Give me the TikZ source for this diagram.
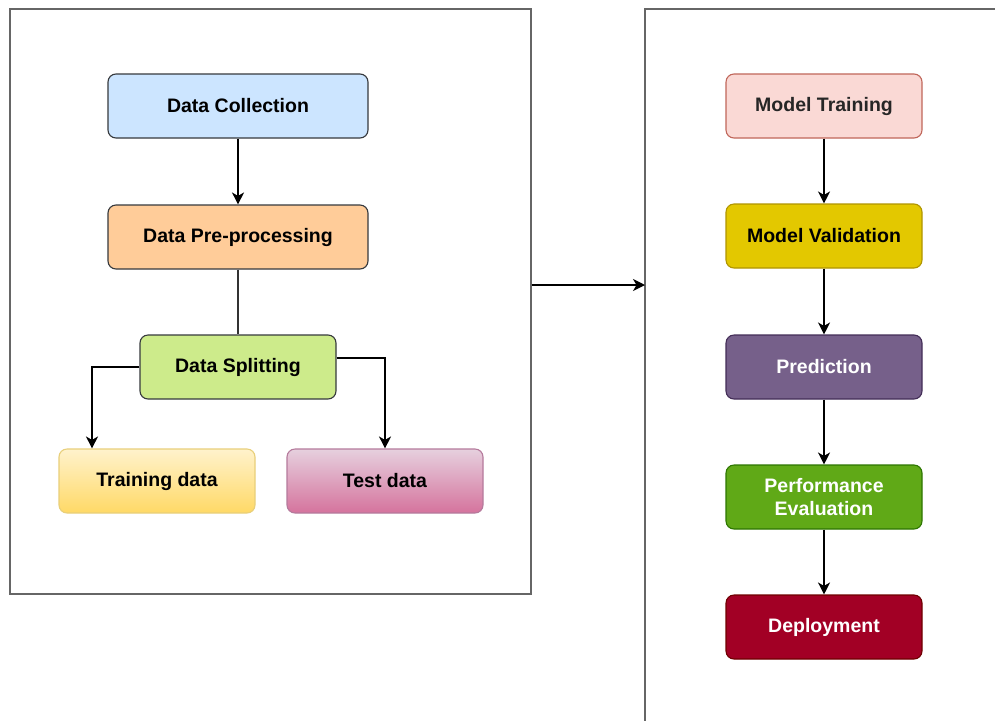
\documentclass[tikz,border=0pt]{standalone}
\usepackage{fontspec}
\setmainfont{Liberation Sans}
\usetikzlibrary{arrows.meta}
\definecolor{dcfill}{HTML}{CCE5FF}
\definecolor{dpfill}{HTML}{FFCC99}
\definecolor{dsfill}{HTML}{CDEB8B}
\definecolor{grayline}{HTML}{36393D}
\definecolor{trtop}{HTML}{FFF2CC}
\definecolor{trbot}{HTML}{FFD966}
\definecolor{trline}{HTML}{E8CF7A}
\definecolor{tetop}{HTML}{E6D0DE}
\definecolor{tebot}{HTML}{D5739D}
\definecolor{teline}{HTML}{B57A9C}
\definecolor{mtfill}{HTML}{FAD9D5}
\definecolor{mtline}{HTML}{C0665A}
\definecolor{mvfill}{HTML}{E3C800}
\definecolor{mvline}{HTML}{B09500}
\definecolor{prfill}{HTML}{76608A}
\definecolor{prline}{HTML}{432D57}
\definecolor{pefill}{HTML}{60A917}
\definecolor{peline}{HTML}{2D7600}
\definecolor{defill}{HTML}{A20025}
\definecolor{deline}{HTML}{6F0000}
\definecolor{panelline}{HTML}{666666}
\begin{document}
\begin{tikzpicture}[x=1pt,y=-1pt,
  box/.style={rounded corners=8pt, draw=grayline, line width=1.1pt,
    font=\bfseries\fontsize{19.5}{23}\selectfont, align=center, inner sep=0pt,
    minimum height=64pt},
  wide/.style={box, minimum width=260pt},
  mid/.style={box, minimum width=196pt},
  panel/.style={draw=panelline, line width=1.4pt, inner sep=0pt},
  conn/.style={draw=black, line width=1.3pt, -{Stealth[length=12pt,width=12pt,inset=3.5pt]}},
  plain/.style={draw=black!80, line width=1.2pt}]
\path[use as bounding box] (0,0) rectangle (995,721);
\fill[white] (0,0) rectangle (995,721);

% left panel
\node[panel, minimum width=521pt, minimum height=585pt] (left) at (270.5,301.5) {};
% right panel (extends beyond the picture)
\coordinate (rpt) at (645,9);
\coordinate (rp) at (645,285);
\draw[panelline, line width=1.4pt] (995,9) -- (rpt) -- (645,721);

% left flow
\node[wide, fill=dcfill] (dc) at (238,106) {Data Collection};
\node[wide, fill=dpfill] (dp) at (238,237) {Data Pre-processing};
\node[mid, fill=dsfill] (ds) at (238,367) {Data Splitting};
\node[mid, draw=trline, top color=trtop, bottom color=trbot] (tr) at (157,481) {Training data};
\node[mid, draw=teline, top color=tetop, bottom color=tebot] (te) at (385,481) {Test data};

\draw[conn] (dc) -- (dp);
\draw[plain] (dp) -- (ds);
\draw[conn] (ds.west) -| ([xshift=-65pt]tr.north);
\draw[conn] ([yshift=9pt]ds.east) -| (te.north);

% panel arrow
\draw[conn] (left.east |- rp) -- (rp);

% right flow
\node[mid, draw=mtline, fill=mtfill, text=black!85] (mt) at (824,106) {Model Training};
\node[mid, draw=mvline, fill=mvfill] (mv) at (824,236) {Model Validation};
\node[mid, draw=prline, fill=prfill, text=white] (pr) at (824,367) {Prediction};
\node[mid, draw=peline, fill=pefill, text=white] (pe) at (824,497) {Performance\\Evaluation};
\node[mid, draw=deline, fill=defill, text=white] (de) at (824,627) {Deployment};

\draw[conn] (mt) -- (mv);
\draw[conn] (mv) -- (pr);
\draw[conn] (pr) -- (pe);
\draw[conn] (pe) -- (de);
\end{tikzpicture}
\end{document}
